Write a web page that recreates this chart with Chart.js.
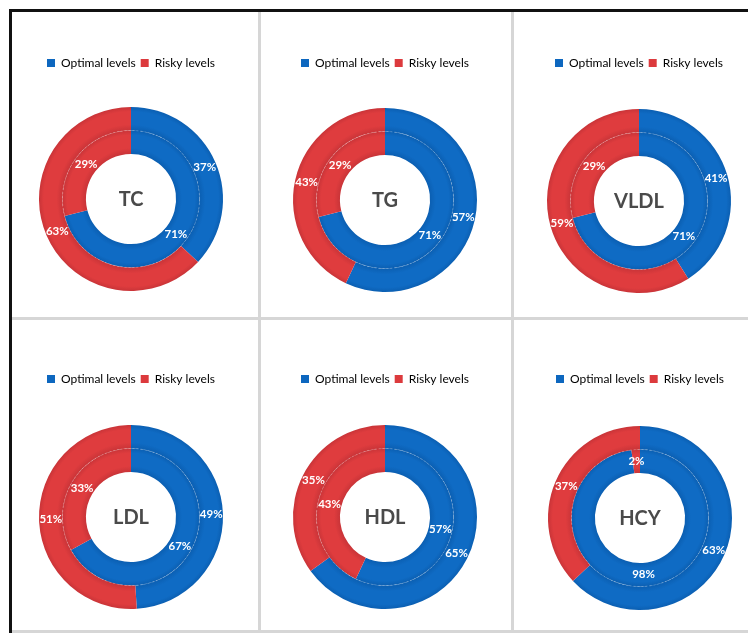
<!DOCTYPE html>
<html>
<head>
<meta charset="utf-8">
<script src="https://cdn.jsdelivr.net/npm/chart.js@4/dist/chart.umd.min.js"></script>
<style>
  body { margin: 0; background: #fff; width: 748px; height: 633px; overflow: hidden; position: relative; font-family: Lato, sans-serif; }
  .frame { position: absolute; left: 9px; top: 9px; width: 800px; height: 700px; border-left: 3px solid #111; border-top: 3px solid #111; }
  .vl { position: absolute; top: 12px; width: 3px; height: 621px; background: #d6d6d6; }
  .hl { position: absolute; left: 12px; width: 740px; height: 3px; background: #d6d6d6; }
  canvas { position: absolute; }
</style>
</head>
<body>
<div class="frame"></div>
<div class="vl" style="left:258px"></div>
<div class="vl" style="left:511px"></div>
<div class="hl" style="top:317px"></div>
<div class="hl" style="top:630px"></div>

<script>
// data (percent)
const panels = ['TC', 'TG', 'VLDL', 'LDL', 'HDL', 'HCY'];
const seriesNames = ['Optimal levels', 'Risky levels'];
const outerOptimal = [37, 57, 41, 49, 65, 63];
const outerRisky   = [63, 43, 59, 51, 35, 37];
const innerOptimal = [71, 71, 71, 67, 57, 98];
const innerRisky   = [29, 29, 29, 33, 43, 2];

const colors = ['#0d67bf', '#dc3a3d'];
const shades = [['#0f6bc4', '#0b5fb2'], ['#df3c3e', '#c93438']];

// where each small chart sits on the page
const spots = [
  { cx: 131, cy: 199, ly: 63,  top: 12 },
  { cx: 385, cy: 200, ly: 63,  top: 12 },
  { cx: 639, cy: 201, ly: 63,  top: 12 },
  { cx: 131, cy: 517, ly: 379, top: 321 },
  { cx: 385, cy: 517, ly: 379, top: 321 },
  { cx: 640, cy: 518, ly: 379, top: 321 }
];

const W = 240, H = 320, FS = 12, PAD = 5;

// soft shading across each ring
function ringFill(ctx) {
  const el = ctx.element;
  const c = shades[ctx.dataIndex];
  if (!el || !el.outerRadius) return colors[ctx.dataIndex];
  const g = ctx.chart.ctx.createRadialGradient(el.x, el.y, el.innerRadius, el.x, el.y, el.outerRadius);
  g.addColorStop(0, c[1]);
  g.addColorStop(0.25, c[0]);
  g.addColorStop(0.8, c[0]);
  g.addColorStop(1, c[1]);
  return g;
}

// percent labels + ring separator + centre title
const donutText = {
  id: 'donutText',
  afterDatasetsDraw(chart, args, opts) {
    const ctx = chart.ctx;
    const outer = chart.getDatasetMeta(0).data[0];
    ctx.save();
    ctx.strokeStyle = 'rgba(255,255,255,0.25)';
    ctx.lineWidth = 1;
    ctx.setLineDash([2, 2]);
    ctx.beginPath();
    ctx.arc(outer.x, outer.y, outer.innerRadius, 0, Math.PI * 2);
    ctx.stroke();
    ctx.setLineDash([]);

    ctx.font = 'bold 11.5px Lato';
    ctx.fillStyle = '#fff';
    ctx.textAlign = 'center';
    ctx.textBaseline = 'middle';
    chart.data.datasets.forEach((ds, i) => {
      chart.getDatasetMeta(i).data.forEach((arc, j) => {
        const p = arc.tooltipPosition();
        ctx.fillText(ds.data[j] + '%', p.x, p.y);
      });
    });

    ctx.font = 'bold 20px Lato';
    ctx.fillStyle = '#4a4a4a';
    ctx.fillText(opts.title, outer.x, outer.y + 1);
    ctx.restore();
  }
};

panels.forEach((name, i) => {
  const s = spots[i];
  const canvas = document.createElement('canvas');
  canvas.width = W;
  canvas.height = H;
  canvas.style.left = (s.cx - W / 2) + 'px';
  canvas.style.top = s.top + 'px';
  document.body.appendChild(canvas);

  const padTop = s.ly - PAD - FS / 2 - s.top;
  const chartTop = padTop + FS + PAD + 10;
  const chartBottom = 2 * (s.cy - s.top) - chartTop;

  const chart = new Chart(canvas.getContext('2d'), {
    type: 'doughnut',
    data: {
      labels: seriesNames,
      datasets: [
        { data: [outerOptimal[i], outerRisky[i]], backgroundColor: ringFill, borderWidth: 0 },
        { data: [innerOptimal[i], innerRisky[i]], backgroundColor: ringFill, borderWidth: 0 }
      ]
    },
    options: {
      responsive: false,
      animation: false,
      events: [],
      radius: 92,
      cutout: '49%',
      layout: { padding: { top: padTop, bottom: H - chartBottom, left: 0, right: 0 } },
      plugins: {
        tooltip: { enabled: false },
        legend: {
          position: 'top',
          labels: {
            boxWidth: 8,
            boxHeight: 8,
            padding: PAD,
            color: '#595959',
            font: { family: 'Lato', size: FS },
            generateLabels: () => seriesNames.map((t, k) => ({
              text: t, fillStyle: colors[k], strokeStyle: colors[k], lineWidth: 0, index: k, hidden: false
            }))
          }
        },
        donutText: { title: name }
      }
    },
    plugins: [donutText]
  });
  // second pass so the arcs know their radii when the gradient is built
  chart.update('none');
});
</script>
</body>
</html>
